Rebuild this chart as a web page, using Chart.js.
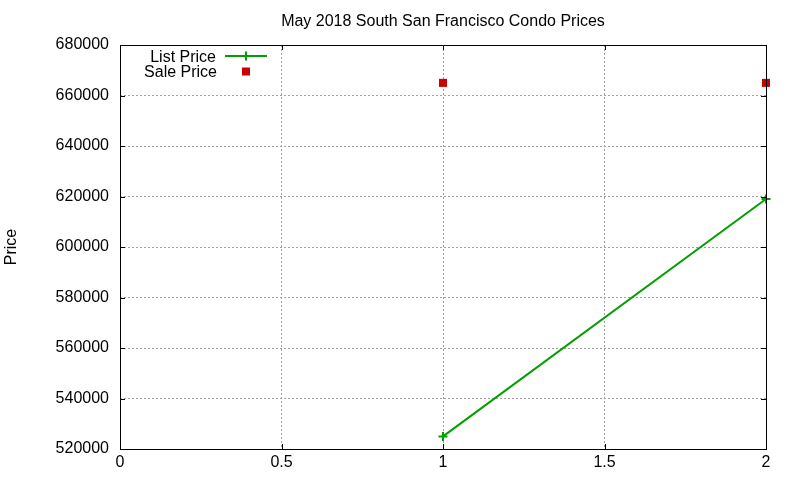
<!DOCTYPE html>
<html>
<head>
<meta charset="utf-8">
<script src="https://cdn.jsdelivr.net/npm/chart.js@4.4.1/dist/chart.umd.min.js"></script>
<style>
  html, body { margin: 0; padding: 0; background: #fff; }
  #wrap { width: 800px; height: 480px; position: relative; }
</style>
</head>
<body>
<div id="wrap"><canvas id="c" width="800" height="480"></canvas></div>
<script>
// ---- data ----
const chartTitle = "May 2018 South San Francisco Condo Prices";
const yAxisTitle = "Price";
const listX = [1, 2];
const listPrice = [525000, 619000];
const saleX = [1, 2];
const salePrice = [665000, 665000];
const xTicks = [0, 0.5, 1, 1.5, 2];
const yTicks = [520000, 540000, 560000, 580000, 600000, 620000, 640000, 660000, 680000];
const seriesNames = ["List Price", "Sale Price"];

const FONT = "'Liberation Sans', Arial, sans-serif";
const GREEN = "#00a000";
const RED = "#cc0000";

const listData = listX.map((x, i) => ({ x: x, y: listPrice[i] }));
const saleData = saleX.map((x, i) => ({ x: x, y: salePrice[i] }));

// title centred over the plot area (gnuplot style)
const titlePlugin = {
  id: 'gtitle',
  afterDraw(chart) {
    const { ctx, chartArea: a } = chart;
    ctx.save();
    ctx.font = "16px " + FONT;
    ctx.fillStyle = '#000';
    ctx.textAlign = 'center';
    ctx.textBaseline = 'middle';
    ctx.fillText(chartTitle, (a.left + a.right) / 2, 22);
    ctx.restore();
  }
};

// frame + inward mirrored ticks (gnuplot style)
const framePlugin = {
  id: 'frame',
  afterDatasetsDraw(chart) {
    const { ctx, chartArea: a, scales } = chart;
    const L = 5;
    ctx.save();
    ctx.strokeStyle = '#000';
    ctx.lineWidth = 1;
    ctx.beginPath();
    scales.x.ticks.forEach(t => {
      const px = Math.round(scales.x.getPixelForValue(t.value)) + 0.5;
      ctx.moveTo(px, a.bottom); ctx.lineTo(px, a.bottom - L);
      ctx.moveTo(px, a.top); ctx.lineTo(px, a.top + L);
    });
    scales.y.ticks.forEach(t => {
      const py = Math.round(scales.y.getPixelForValue(t.value)) + 0.5;
      ctx.moveTo(a.left, py); ctx.lineTo(a.left + L, py);
      ctx.moveTo(a.right, py); ctx.lineTo(a.right - L, py);
    });
    ctx.stroke();
    ctx.strokeRect(Math.round(a.left) + 0.5, Math.round(a.top) + 0.5,
                   Math.round(a.right - a.left), Math.round(a.bottom - a.top));
    ctx.restore();
  }
};

// gnuplot-like key at top-left inside the plot
const keyPlugin = {
  id: 'gkey',
  afterDraw(chart) {
    const { ctx } = chart;
    const ds = chart.data.datasets;
    ctx.save();
    ctx.font = "16px " + FONT;
    ctx.textAlign = 'right';
    ctx.textBaseline = 'middle';
    ctx.fillStyle = '#000';
    const y1 = 56, y2 = 71;
    ctx.fillText(ds[0].label, 216, y1 + 1.5);
    ctx.strokeStyle = ds[0].borderColor;
    ctx.lineWidth = 2;
    ctx.beginPath();
    ctx.moveTo(225, y1); ctx.lineTo(267, y1);
    ctx.moveTo(246, y1 - 4.5); ctx.lineTo(246, y1 + 4.5);
    ctx.stroke();
    ctx.fillStyle = '#000';
    ctx.fillText(ds[1].label, 217, y2 + 1.5);
    ctx.fillStyle = ds[1].backgroundColor;
    ctx.fillRect(242, y2 - 3.5, 8, 8);
    ctx.restore();
  }
};

new Chart(document.getElementById('c'), {
  type: 'scatter',
  data: {
    datasets: [
      {
        label: seriesNames[0],
        data: listData,
        showLine: true,
        clip: false,
        borderColor: GREEN,
        backgroundColor: GREEN,
        borderWidth: 2,
        pointStyle: 'cross',
        pointRadius: 4.5,
        pointBorderWidth: 2,
        pointBorderColor: GREEN,
        tension: 0
      },
      {
        label: seriesNames[1],
        data: saleData,
        showLine: false,
        clip: false,
        borderColor: RED,
        backgroundColor: RED,
        pointStyle: 'rect',
        pointRadius: 5.7,
        pointBorderWidth: 0
      }
    ]
  },
  options: {
    responsive: false,
    animation: false,
    devicePixelRatio: 1,
    layout: { padding: { left: 0, right: 34, top: 45, bottom: 0 } },
    plugins: {
      legend: { display: false },
      tooltip: { enabled: false },
      title: { display: false }
    },
    scales: {
      x: {
        type: 'linear',
        min: 0, max: 2,
        afterBuildTicks(scale) { scale.ticks = xTicks.map(v => ({ value: v })); },
        afterFit(scale) { scale.height = 31; },
        ticks: {
          color: '#000',
          font: { family: FONT, size: 16 },
          padding: 4,
          maxRotation: 0,
          callback: v => String(v)
        },
        grid: { color: '#a0a0a0', lineWidth: 1, drawTicks: false },
        border: { display: false, dash: [2, 2] }
      },
      y: {
        type: 'linear',
        min: 520000, max: 680000,
        afterBuildTicks(scale) { scale.ticks = yTicks.map(v => ({ value: v })); },
        afterFit(scale) { scale.width = 120; },
        ticks: {
          color: '#000',
          font: { family: FONT, size: 16 },
          padding: 11,
          callback: v => String(v)
        },
        title: {
          display: true,
          text: yAxisTitle,
          color: '#000',
          font: { family: FONT, size: 16, lineHeight: 1.2 },
          padding: { top: 2, bottom: 0 }
        },
        grid: { color: '#a0a0a0', lineWidth: 1, drawTicks: false },
        border: { display: false, dash: [2, 2] }
      }
    }
  },
  plugins: [framePlugin, keyPlugin, titlePlugin]
});
</script>
</body>
</html>
